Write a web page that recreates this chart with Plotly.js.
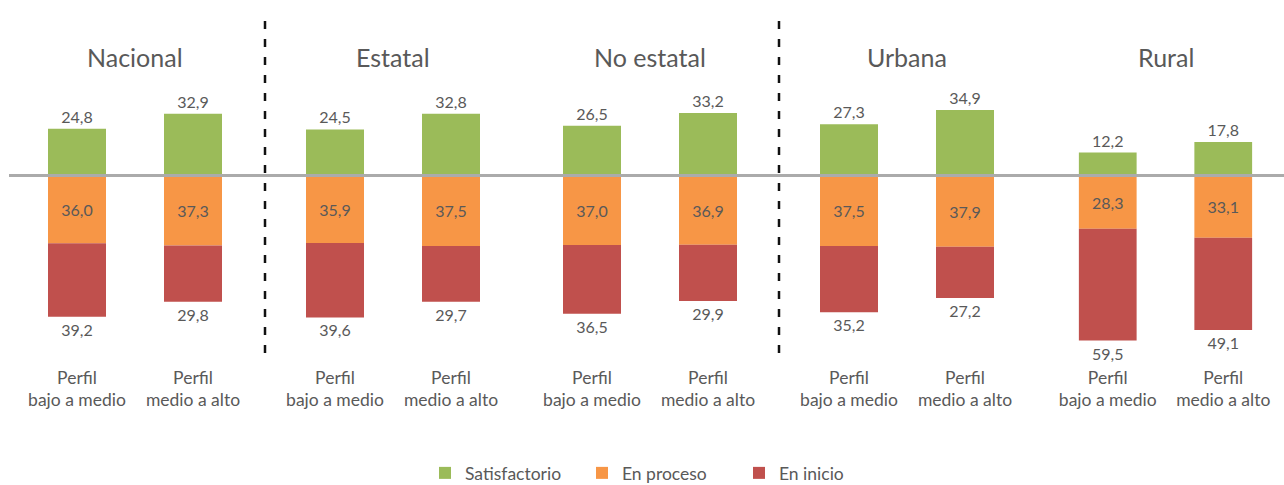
<!DOCTYPE html>
<html><head><meta charset="utf-8">
<script src="https://cdn.plot.ly/plotly-3.0.1.min.js"></script>
<style>html,body{margin:0;padding:0;background:#fff}#chart{width:1284px;height:485px}</style>
</head><body><div id="chart"></div>
<script>
// ---- data ----
const groups = ["Nacional", "Estatal", "No estatal", "Urbana", "Rural"];
const profiles = ["Perfil<br>bajo a medio", "Perfil<br>medio a alto"];
const seriesNames = ["Satisfactorio", "En proceso", "En inicio"];
const satisfactorio = [[24.8, 32.9], [24.5, 32.8], [26.5, 33.2], [27.3, 34.9], [12.2, 17.8]];
const enProceso    = [[36.0, 37.3], [35.9, 37.5], [37.0, 36.9], [37.5, 37.9], [28.3, 33.1]];
const enInicio     = [[39.2, 29.8], [39.6, 29.7], [36.5, 29.9], [35.2, 27.2], [59.5, 49.1]];

// ---- style / layout ----
const W = 1284;
const colors = ["#9BBB59", "#F79646", "#C0504D"];
const txt = "#595959";
const domainsPx = [[19, 251], [277, 509], [534, 766], [791, 1023], [1050, 1281]];
const fmt = v => v.toFixed(1).replace('.', ',');
const plotTop = 25, plotBottom = 365, H = 485;
const yRange = [-100.8, 80.05];

const traces = [];
const layout = {
  width: W, height: H,
  margin: {l: 0, r: 0, t: plotTop, b: H - plotBottom},
  paper_bgcolor: "#fff", plot_bgcolor: "#fff",
  barmode: "relative", bargap: 0.5,
  font: {family: "Lato, 'Open Sans', sans-serif", color: txt, size: 16},
  showlegend: true,
  legend: {orientation: "h", xref: "container", x: 425 / W, xanchor: "left",
           yref: "container", y: (H - 473) / H, yanchor: "middle",
           entrywidth: 112, entrywidthmode: "pixels",
           font: {size: 17.5, color: txt}, traceorder: "normal"},
  shapes: [], annotations: []
};

groups.forEach((g, k) => {
  const sx = k === 0 ? "" : String(k + 1);
  const xa = "x" + sx, ya = "y" + sx;
  const common = {type: "bar", x: profiles, xaxis: xa, yaxis: ya, hoverinfo: "skip",
                  cliponaxis: false, textfont: {size: 16, color: txt}};
  traces.push(Object.assign({}, common, {
    name: seriesNames[0], legendgroup: "s", showlegend: k === 0,
    y: satisfactorio[k], text: satisfactorio[k].map(fmt), textposition: "outside",
    marker: {color: colors[0]}
  }));
  traces.push(Object.assign({}, common, {
    name: seriesNames[1], legendgroup: "p", showlegend: k === 0,
    y: enProceso[k].map(v => -v), text: enProceso[k].map(fmt), textposition: "inside",
    insidetextanchor: "middle", insidetextfont: {size: 16, color: txt},
    marker: {color: colors[1]}
  }));
  traces.push(Object.assign({}, common, {
    name: seriesNames[2], legendgroup: "i", showlegend: k === 0,
    y: enInicio[k].map(v => -v), text: enInicio[k].map(fmt), textposition: "outside",
    marker: {color: colors[2]}
  }));
  layout["xaxis" + sx] = {
    domain: [domainsPx[k][0] / W, domainsPx[k][1] / W], anchor: ya, type: "category",
    showgrid: false, zeroline: false, showline: false, ticks: "",
    tickfont: {size: 17.5, color: txt}, fixedrange: true
  };
  layout["yaxis" + sx] = {range: yRange, anchor: xa, visible: false, fixedrange: true};
  layout.annotations.push({
    text: g, xref: xa + " domain", x: 0.5, yref: "paper",
    y: (plotBottom - 57) / (plotBottom - plotTop), yanchor: "middle",
    showarrow: false, font: {size: 25, color: txt}
  });
});

// zero line
layout.shapes.push({type: "line", xref: "paper", yref: "y", x0: 9 / W, x1: 1, y0: 0, y1: 0,
  line: {color: "#ABABAB", width: 3}, layer: "above"});
// dashed separators
[265, 779].forEach(px => layout.shapes.push({
  type: "line", xref: "paper", yref: "paper", x0: px / W, x1: px / W,
  y0: (plotBottom - 353) / (plotBottom - plotTop), y1: (plotBottom - 15) / (plotBottom - plotTop),
  line: {color: "#111", width: 2.5, dash: "8px,10px"}
}));

Plotly.newPlot("chart", traces, layout, {displayModeBar: false, staticPlot: true});
</script>
</body></html>
